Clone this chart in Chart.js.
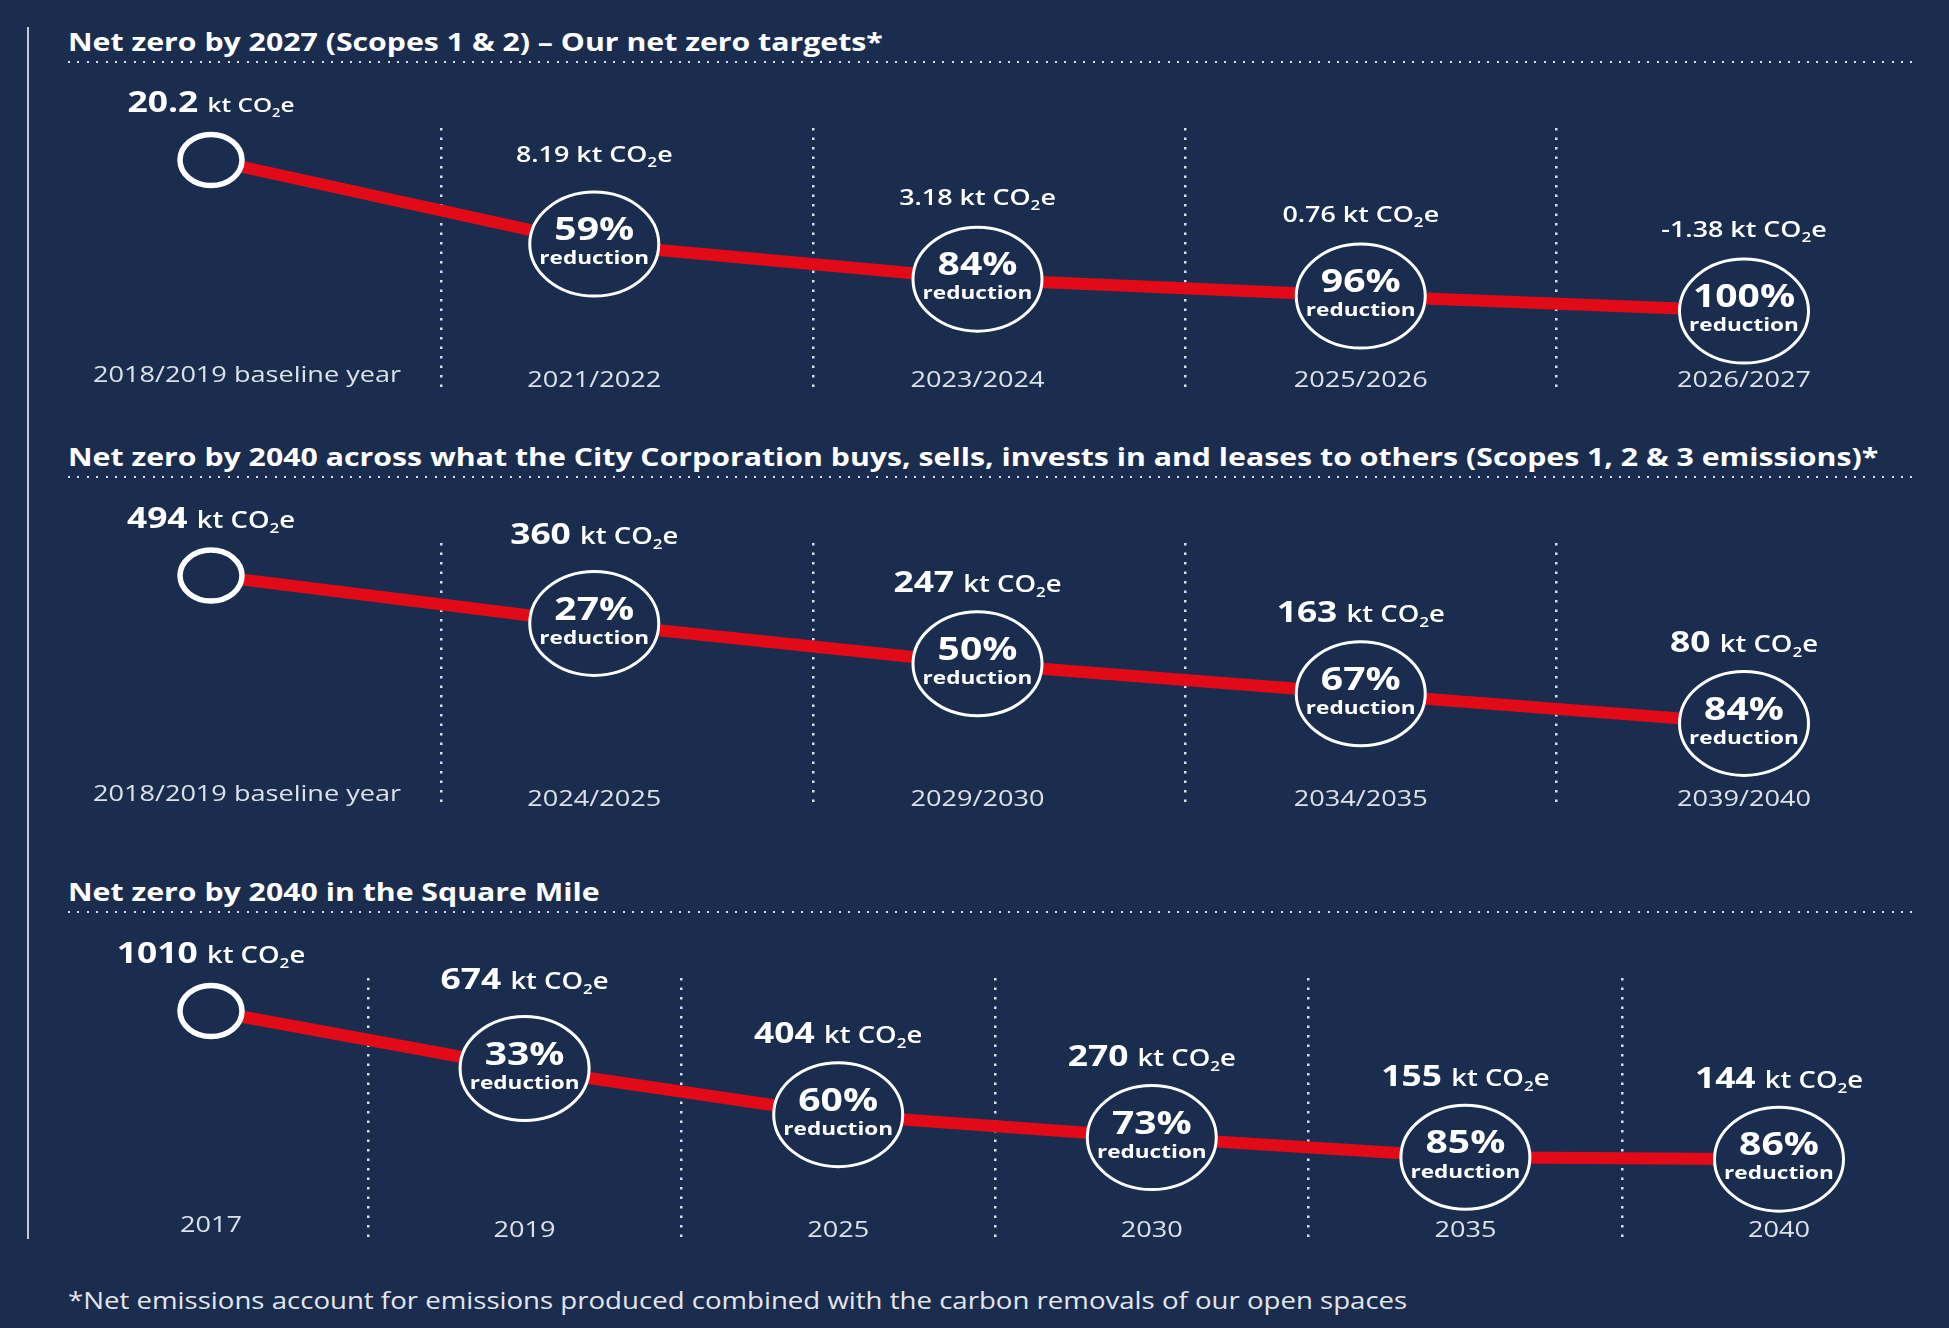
<!DOCTYPE html>
<html>
<head>
<meta charset="utf-8">
<script src="https://cdn.jsdelivr.net/npm/chart.js@4.4.1/dist/chart.umd.min.js"></script>
<style>
  html, body { margin: 0; padding: 0; }
  body {
    width: 1949px; height: 1328px; position: relative; overflow: hidden;
    background: #1b2d4f; font-family: "Open Sans", sans-serif; color: #fff;
  }
  .vline { position: absolute; left: 27px; top: 27px; width: 2px; height: 1212px; background: #c3c9d4; }
  .title {
    position: absolute; left: 68px; font-weight: 700; font-size: 25px; line-height: 30px; white-space: nowrap;
    transform: scaleX(1.21); transform-origin: left center;
  }
  .rule {
    position: absolute; left: 68px; width: 1847px; height: 2px;
    background: repeating-linear-gradient(to right, rgba(255,255,255,0.85) 0 2px, transparent 2px 9.4px);
  }
  .panel { position: absolute; left: 0; width: 1949px; }
  .foot {
    position: absolute; left: 68px; top: 1286px; font-size: 23px; line-height: 28px; color: #e3e6ec; white-space: nowrap;
    transform: scaleX(1.2); transform-origin: left center;
  }
</style>
</head>
<body>
<div class="vline"></div>

<div class="title" style="top:26px">Net zero by 2027 (Scopes 1 &amp; 2) – Our net zero targets*</div>
<div class="rule" style="top:61px"></div>
<div class="panel" style="top:70px;height:340px"><canvas id="chart1"></canvas></div>

<div class="title" style="top:441px">Net zero by 2040 across what the City Corporation buys, sells, invests in and leases to others (Scopes 1, 2 &amp; 3 emissions)*</div>
<div class="rule" style="top:476px"></div>
<div class="panel" style="top:490px;height:330px"><canvas id="chart2"></canvas></div>

<div class="title" style="top:876px">Net zero by 2040 in the Square Mile</div>
<div class="rule" style="top:911px"></div>
<div class="panel" style="top:925px;height:330px"><canvas id="chart3"></canvas></div>

<div class="foot">*Net emissions account for emissions produced combined with the carbon removals of our open spaces</div>

<script>
// ── Data ──────────────────────────────────────
const scopeOneTwoYears      = ['2018/2019 baseline year', '2021/2022', '2023/2024', '2025/2026', '2026/2027'];
const scopeOneTwoValues     = [20.2, 8.19, 3.18, 0.76, -1.38];
const scopeOneTwoReductions = [null, 59, 84, 96, 100];

const corpYears      = ['2018/2019 baseline year', '2024/2025', '2029/2030', '2034/2035', '2039/2040'];
const corpValues     = [494, 360, 247, 163, 80];
const corpReductions = [null, 27, 50, 67, 84];

const squareMileYears      = ['2017', '2019', '2025', '2030', '2035', '2040'];
const squareMileValues     = [1010, 674, 404, 270, 155, 144];
const squareMileReductions = [null, 33, 60, 73, 85, 86];

// ── Style ─────────────────────────────────────
const NAVY  = '#1b2d4f';
const RED   = '#e30a18';
const WHITE = '#ffffff';
const GRID  = 'rgba(255,255,255,0.85)';
const YEAR_COLOR = '#dde1e8';
const FONT  = '"Open Sans", sans-serif';
const STRETCH = 1.22;   // the original artwork is stretched sideways

// ── Label helpers ─────────────────────────────
function drawValueLabel(ctx, cx, cy, num, numSize, numWeight, unitSize) {
  const parts = [
    { t: num + ' ', f: `${numWeight} ${numSize}px ${FONT}`, dy: 0 },
    { t: 'kt CO',   f: `600 ${unitSize}px ${FONT}`, dy: 0 },
    { t: '2',       f: `600 ${Math.round(unitSize * 0.62)}px ${FONT}`, dy: 5 },
    { t: 'e',       f: `600 ${unitSize}px ${FONT}`, dy: 0 },
  ];
  let total = 0;
  parts.forEach(p => { ctx.font = p.f; p.w = ctx.measureText(p.t).width; total += p.w; });
  ctx.save();
  ctx.translate(cx, cy + numSize * 0.36);
  ctx.scale(STRETCH, 1);
  ctx.fillStyle = WHITE;
  ctx.textAlign = 'left';
  ctx.textBaseline = 'alphabetic';
  let x = -total / 2;
  parts.forEach(p => {
    ctx.font = p.f;
    ctx.fillText(p.t, x, p.dy);
    x += p.w;
  });
  ctx.restore();
}

function stretchedText(ctx, text, x, y, stretch) {
  ctx.save();
  ctx.translate(x, y);
  ctx.scale(stretch, 1);
  ctx.fillText(text, 0, 0);
  ctx.restore();
}

function markersPlugin(years, reductions, smallRest) {
  return {
    id: 'markers',
    afterDatasetsDraw(chart) {
      const ctx  = chart.ctx;
      const area = chart.chartArea;
      const meta = chart.getDatasetMeta(0);
      const values = chart.data.datasets[0].data;

      meta.data.forEach((pt, i) => {
        const x = pt.x, y = pt.y;
        ctx.save();

        // ring
        ctx.beginPath();
        if (i === 0) {
          ctx.ellipse(x, y, 31, 25.5, 0, 0, Math.PI * 2);
          ctx.fillStyle = NAVY; ctx.fill();
          ctx.lineWidth = 5.5; ctx.strokeStyle = WHITE; ctx.stroke();
        } else {
          ctx.ellipse(x, y, 64.5, 52, 0, 0, Math.PI * 2);
          ctx.fillStyle = NAVY; ctx.fill();
          ctx.lineWidth = 3; ctx.strokeStyle = WHITE; ctx.stroke();

          ctx.fillStyle = WHITE;
          ctx.textAlign = 'center';
          ctx.textBaseline = 'middle';
          ctx.font = `700 32px ${FONT}`;
          stretchedText(ctx, reductions[i] + '%', x, y - 13, STRETCH);
          ctx.font = `700 18.5px ${FONT}`;
          stretchedText(ctx, 'reduction', x, y + 15, STRETCH);
        }

        // value label above
        const dy = i === 0 ? -58 : (i === 1 ? -90 : -82);
        if (smallRest && i > 0) drawValueLabel(ctx, x, y + dy, String(values[i]), 22, 600, 22);
        else if (smallRest)     drawValueLabel(ctx, x, y + dy, String(values[i]), 29, 700, 20);
        else                    drawValueLabel(ctx, x, y + dy, String(values[i]), 29, 700, 22.5);

        // year label along the bottom
        const yearStretch = 1.29;
        ctx.font = `400 21px ${FONT}`;
        ctx.fillStyle = YEAR_COLOR;
        ctx.textBaseline = 'middle';
        ctx.textAlign = 'left';
        const w = ctx.measureText(years[i]).width * yearStretch;
        let lx = x - w / 2;
        if (i === 0) lx = Math.max(lx, 93);
        stretchedText(ctx, years[i], lx, area.bottom - (i === 0 ? 13 : 8), yearStretch);

        ctx.restore();
      });
    }
  };
}

// ── Chart builder ─────────────────────────────
function buildPanel(id, years, values, reductions, opts) {
  const scales = {
    x: {
      offset: false,
      grid: { display: !opts.sep, offset: true, drawTicks: false, color: GRID, lineWidth: 2.5 },
      border: { display: false, dash: [2.5, 7] },
      ticks: { display: false },
    },
    y: { display: false, min: opts.min, max: opts.max },
  };
  // separator axis: dotted rules sit on its whole-number ticks
  if (opts.sep) {
    scales.sep = {
      type: 'linear',
      position: 'top',
      min: opts.sep[0],
      max: opts.sep[1],
      ticks: { display: false, stepSize: 1 },
      grid: {
        drawTicks: false,
        lineWidth: 2.5,
        color: c => Math.abs(c.tick.value - Math.round(c.tick.value)) < 1e-6 ? GRID : 'rgba(0,0,0,0)',
      },
      border: { display: false, dash: [2.5, 7] },
    };
  }

  return new Chart(document.getElementById(id), {
    type: 'line',
    data: {
      labels: years,
      datasets: [{
        data: values,
        borderColor: RED,
        borderWidth: 12,
        pointRadius: 0,
        tension: 0,
        fill: false,
      }],
    },
    options: {
      responsive: true,
      maintainAspectRatio: false,
      animation: false,
      events: [],
      layout: { padding: opts.padding },
      plugins: { legend: { display: false }, tooltip: { enabled: false } },
      scales,
    },
    plugins: [markersPlugin(years, reductions, opts.smallRest)],
  });
}

// ── Init ──────────────────────────────────────
buildPanel('chart1', scopeOneTwoYears, scopeOneTwoValues, scopeOneTwoReductions, {
  padding: { left: 211, right: 205, top: 58, bottom: 21 },
  min: -12.51, max: 24.77, smallRest: true, sep: [0.38, 4.504],
});
buildPanel('chart2', corpYears, corpValues, corpReductions, {
  padding: { left: 211, right: 205, top: 53, bottom: 12 },
  min: -157, max: 585.3, smallRest: false, sep: [0.38, 4.504],
});
buildPanel('chart3', squareMileYears, squareMileValues, squareMileReductions, {
  padding: { left: 211, right: 170, top: 53, bottom: 16 },
  min: -323, max: 1203, smallRest: false,
});
</script>
</body>
</html>
